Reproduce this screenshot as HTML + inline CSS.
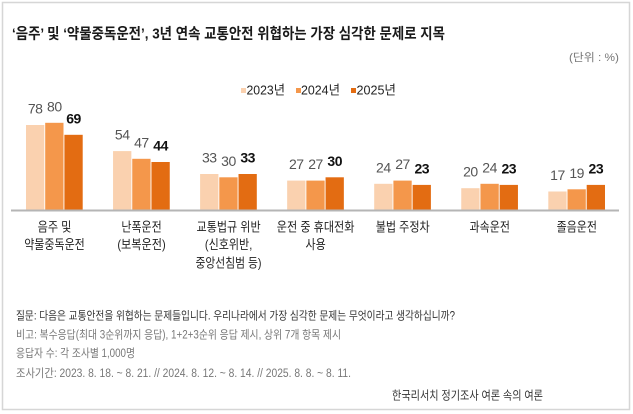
<!DOCTYPE html>
<html>
<head>
<meta charset="utf-8">
<style>
html,body{margin:0;padding:0;background:#fff;}
svg{display:block;}
text{font-family:"Liberation Sans","Noto Sans CJK KR",sans-serif;}
.k{font-family:"Liberation Sans","Noto Sans CJK KR",sans-serif;}
.v1{font-size:14px;fill:#555;text-anchor:middle;letter-spacing:-0.5px;}
.v3{font-size:14px;fill:#111;font-weight:bold;text-anchor:middle;letter-spacing:-0.5px;}
.cat{font-size:13px;fill:#222;}
.ft{font-size:11.5px;fill:#777;}
</style>
</head>
<body>
<svg width="633" height="414" viewBox="0 0 633 414" xmlns="http://www.w3.org/2000/svg">
<rect x="0" y="0" width="633" height="414" fill="#fff"/>
<rect x="2.5" y="2.5" width="627" height="407" fill="none" stroke="#d6d6d6" stroke-width="1.5"/>

<!-- Title -->
<text x="12" y="38.7" font-size="15" font-weight="bold" fill="#1a1a1a" textLength="433" lengthAdjust="spacingAndGlyphs">‘음주’ 및 ‘약물중독운전’, 3년 연속 교통안전 위협하는 가장 심각한 문제로 지목</text>
<text x="569" y="61" font-size="11" fill="#777" textLength="50" lengthAdjust="spacingAndGlyphs">(단위 : %)</text>

<!-- Legend -->
<rect x="241" y="88" width="5" height="5" fill="#fad1af"/>
<text x="246.5" y="94.5" font-size="13" fill="#222" textLength="38.5" lengthAdjust="spacingAndGlyphs">2023년</text>
<rect x="296" y="88" width="5" height="5" fill="#f4974b"/>
<text x="301" y="94.5" font-size="13" fill="#222" textLength="39" lengthAdjust="spacingAndGlyphs">2024년</text>
<rect x="351" y="88" width="5" height="5" fill="#e36c12"/>
<text x="356.5" y="94.5" font-size="13" fill="#222" textLength="39.5" lengthAdjust="spacingAndGlyphs">2025년</text>

<!-- Bars group 1 -->
<rect x="26" y="125.0" width="18.3" height="85.0" fill="#fad1af"/>
<rect x="45.2" y="122.8" width="18.3" height="87.2" fill="#f4974b"/>
<rect x="64.4" y="134.8" width="18.3" height="75.2" fill="#e36c12"/>
<text class="v1" x="35.15" y="113.5">78</text>
<text class="v1" x="54.35" y="111.3">80</text>
<text class="v3" x="73.55" y="123.3">69</text>

<!-- group 2 -->
<rect x="113.05" y="151.1" width="18.3" height="58.9" fill="#fad1af"/>
<rect x="132.25" y="158.8" width="18.3" height="51.2" fill="#f4974b"/>
<rect x="151.45" y="162.0" width="18.3" height="48.0" fill="#e36c12"/>
<text class="v1" x="122.2" y="139.6">54</text>
<text class="v1" x="141.4" y="147.3">47</text>
<text class="v3" x="160.6" y="150.5">44</text>

<!-- group 3 -->
<rect x="200.1" y="174.0" width="18.3" height="36.0" fill="#fad1af"/>
<rect x="219.3" y="177.3" width="18.3" height="32.7" fill="#f4974b"/>
<rect x="238.5" y="174.0" width="18.3" height="36.0" fill="#e36c12"/>
<text class="v1" x="209.25" y="162.5">33</text>
<text class="v1" x="228.45" y="165.8">30</text>
<text class="v3" x="247.65" y="162.5">33</text>

<!-- group 4 -->
<rect x="287.15" y="180.6" width="18.3" height="29.4" fill="#fad1af"/>
<rect x="306.35" y="180.6" width="18.3" height="29.4" fill="#f4974b"/>
<rect x="325.55" y="177.3" width="18.3" height="32.7" fill="#e36c12"/>
<text class="v1" x="296.3" y="169.1">27</text>
<text class="v1" x="315.5" y="169.1">27</text>
<text class="v3" x="334.7" y="165.8">30</text>

<!-- group 5 -->
<rect x="374.2" y="183.8" width="18.3" height="26.2" fill="#fad1af"/>
<rect x="393.4" y="180.6" width="18.3" height="29.4" fill="#f4974b"/>
<rect x="412.6" y="184.9" width="18.3" height="25.1" fill="#e36c12"/>
<text class="v1" x="383.35" y="172.3">24</text>
<text class="v1" x="402.55" y="169.1">27</text>
<text class="v3" x="421.75" y="173.4">23</text>

<!-- group 6 -->
<rect x="461.25" y="188.2" width="18.3" height="21.8" fill="#fad1af"/>
<rect x="480.45" y="183.8" width="18.3" height="26.2" fill="#f4974b"/>
<rect x="499.65" y="184.9" width="18.3" height="25.1" fill="#e36c12"/>
<text class="v1" x="470.4" y="176.7">20</text>
<text class="v1" x="489.6" y="172.3">24</text>
<text class="v3" x="508.8" y="173.4">23</text>

<!-- group 7 -->
<rect x="548.3" y="191.5" width="18.3" height="18.5" fill="#fad1af"/>
<rect x="567.5" y="189.3" width="18.3" height="20.7" fill="#f4974b"/>
<rect x="586.7" y="184.9" width="18.3" height="25.1" fill="#e36c12"/>
<text class="v1" x="557.45" y="180.0">17</text>
<text class="v1" x="576.65" y="177.8">19</text>
<text class="v3" x="595.85" y="173.4">23</text>

<!-- Axis -->
<rect x="11" y="209.5" width="608" height="2" fill="#b5b5b5"/>

<!-- Category labels -->
<text class="cat" x="37.6" y="231.5" textLength="33.8" lengthAdjust="spacingAndGlyphs">음주 및</text>
<text class="cat" x="24.2" y="249" textLength="60.6" lengthAdjust="spacingAndGlyphs">약물중독운전</text>

<text class="cat" x="121.35" y="231.5" textLength="40.4" lengthAdjust="spacingAndGlyphs">난폭운전</text>
<text class="cat" x="117.35" y="249" textLength="48.4" lengthAdjust="spacingAndGlyphs">(보복운전)</text>

<text class="cat" x="196.55" y="231.5" textLength="64.1" lengthAdjust="spacingAndGlyphs">교통법규 위반</text>
<text class="cat" x="204.9" y="249" textLength="47.4" lengthAdjust="spacingAndGlyphs">(신호위반,</text>
<text class="cat" x="195.5" y="267.5" textLength="66" lengthAdjust="spacingAndGlyphs">중앙선침범 등)</text>

<text class="cat" x="276.8" y="231.5" textLength="77.7" lengthAdjust="spacingAndGlyphs">운전 중 휴대전화</text>
<text class="cat" x="305.55" y="249" textLength="20.2" lengthAdjust="spacingAndGlyphs">사용</text>

<text class="cat" x="375.7" y="231.5" textLength="54" lengthAdjust="spacingAndGlyphs">불법 주정차</text>
<text class="cat" x="469.55" y="231.5" textLength="40.4" lengthAdjust="spacingAndGlyphs">과속운전</text>
<text class="cat" x="556.6" y="231.5" textLength="40.4" lengthAdjust="spacingAndGlyphs">졸음운전</text>

<!-- Footer -->
<text x="16" y="319.4" font-size="11.5" fill="#333" textLength="439" lengthAdjust="spacingAndGlyphs">질문: 다음은 교통안전을 위협하는 문제들입니다. 우리나라에서 가장 심각한 문제는 무엇이라고 생각하십니까?</text>
<text class="ft" x="16" y="338.4" textLength="325" lengthAdjust="spacingAndGlyphs">비고: 복수응답(최대 3순위까지 응답), 1+2+3순위 응답 제시, 상위 7개 항목 제시</text>
<text class="ft" x="16" y="357" textLength="119" lengthAdjust="spacingAndGlyphs">응답자 수: 각 조사별 1,000명</text>
<text class="ft" x="16" y="377" textLength="335" lengthAdjust="spacingAndGlyphs">조사기간: 2023. 8. 18. ~ 8. 21. // 2024. 8. 12. ~ 8. 14. // 2025. 8. 8. ~ 8. 11.</text>
<text x="392" y="399.6" font-size="12" fill="#333" textLength="151" lengthAdjust="spacingAndGlyphs">한국리서치 정기조사 여론 속의 여론</text>
</svg>
</body>
</html>
